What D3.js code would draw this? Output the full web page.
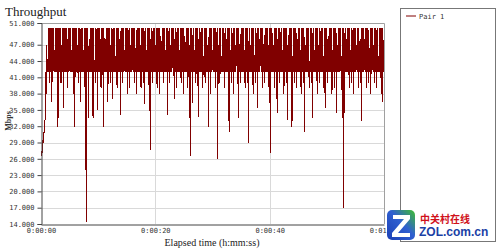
<!DOCTYPE html>
<html>
<head>
<meta charset="utf-8">
<script src="https://cdn.jsdelivr.net/npm/d3@7"></script>
<style>
  body { margin: 0; background: #fff; }
  svg { display: block; }
</style>
</head>
<body>
<svg id="chart" width="500" height="250"></svg>
<script>
"use strict"

// one sample every 0.1 s (Mbps)
var sampleStep = 0.1
var throughput = [
  26.5, 27.5, 27, 29.5, 29, 31, 30.7, 33, 42, 38, 47, 42, 44, 42, 50, 40, 50, 42, 50, 36.5,
  50, 42, 50, 42, 46, 42, 50, 42, 50, 31.8, 50, 33.5, 50, 42, 50, 40, 47, 42, 50, 35.3,
  50, 42, 50, 42, 50, 42, 48, 39, 50, 42, 50, 42, 50, 42, 45, 42, 50, 38, 50, 31.8,
  50, 42, 50, 42, 47, 40, 50, 42, 50, 36.5, 50, 42, 50, 42, 46, 42, 50, 39, 50, 14.4,
  50, 42, 50, 33.5, 47, 42, 50, 42, 50, 42, 50, 33.5, 50, 42, 44, 40, 50, 42, 50, 35,
  50, 42, 50, 42, 48, 39, 50, 42, 50, 31.8, 50, 42, 46, 42, 50, 42, 50, 36.5, 50, 42,
  50, 40, 47, 42, 50, 37, 50, 42, 50, 42, 45, 42, 50, 39, 50, 42, 50, 42, 48, 34,
  50, 42, 50, 40, 50, 42, 46, 42, 50, 42, 50, 38, 50, 42, 50, 39, 47, 42, 50, 42,
  50, 42, 50, 40, 50, 42, 45, 38, 50, 42, 50, 42, 50, 42, 47, 39, 50, 42, 50, 40,
  50, 36, 50, 42, 46, 42, 50, 42, 50, 39, 50, 27.6, 48, 42, 50, 40, 50, 42, 50, 42,
  47, 42, 50, 39, 50, 42, 50, 38, 50, 42, 45, 42, 50, 42, 50, 40, 50, 42, 46, 42,
  50, 34, 50, 42, 50, 40, 47, 42, 50, 42, 50, 42, 50, 37, 48, 42, 50, 39, 50, 42,
  50, 42, 46, 42, 50, 40, 50, 42, 50, 38, 50, 42, 44, 42, 50, 42, 50, 39, 50, 42,
  47, 26.5, 50, 42, 50, 36.3, 50, 42, 46, 42, 50, 40, 50, 42, 50, 33.7, 48, 42, 50, 42,
  50, 42, 50, 39, 45, 42, 50, 40, 50, 42, 50, 42, 47, 31.8, 50, 42, 50, 38, 50, 42,
  46, 42, 50, 42, 50, 39, 50, 42, 50, 26, 47, 42, 50, 40, 50, 42, 45, 42, 50, 42,
  50, 39, 50, 42, 48, 42, 50, 42, 50, 30.9, 50, 42, 46, 40, 50, 42, 50, 38, 50, 42,
  47, 42, 50, 42, 50, 33.5, 50, 42, 44, 40, 50, 42, 50, 42, 50, 42, 46, 39, 50, 42,
  50, 40, 50, 29, 50, 42, 47, 42, 50, 42, 50, 38, 50, 42, 45, 40, 50, 42, 50, 35.3,
  50, 42, 48, 42, 50, 42, 50, 39, 50, 42, 46, 40, 50, 42, 50, 42, 50, 42, 47, 38,
  50, 27, 50, 42, 50, 42, 45, 42, 50, 39, 50, 42, 50, 34.5, 48, 42, 50, 40, 50, 42,
  50, 42, 46, 42, 50, 38, 50, 42, 50, 40, 50, 33.2, 47, 42, 50, 42, 50, 42, 50, 31.8,
  45, 42, 50, 40, 50, 42, 50, 39, 48, 42, 50, 42, 50, 42, 46, 38, 50, 42, 50, 40,
  50, 30.9, 47, 42, 50, 42, 50, 42, 50, 39, 44, 42, 50, 40, 50, 33.5, 50, 42, 46, 42,
  50, 42, 50, 38, 50, 42, 47, 40, 50, 42, 50, 42, 50, 42, 45, 39, 50, 35.3, 50, 42,
  50, 40, 48, 42, 50, 42, 50, 42, 50, 38, 46, 42, 50, 39, 50, 42, 50, 34.5, 47, 42,
  50, 42, 50, 42, 50, 40, 45, 33.5, 50, 17, 50, 34.5, 50, 42, 48, 42, 50, 42, 50, 39,
  50, 42, 46, 40, 50, 42, 50, 38, 50, 42, 50, 42, 47, 42, 50, 39, 50, 42, 44, 40,
  50, 33, 50, 42, 50, 42, 48, 42, 50, 39, 50, 42, 50, 40, 46, 42, 50, 38, 50, 42,
  50, 42, 47, 40, 50, 42, 50, 39, 50, 42, 45, 42, 50, 42, 50, 38, 50, 36.5, 50, 42,
  47
]

var yTicks = [14, 17, 20, 23, 26, 29, 32, 35, 38, 41, 44, 47, 51]
var xTicks = [0, 20, 40, 60]
var xTickLabels = ["0:00:00", "0:00:20", "0:00:40", "0:01:00"]
var seriesNames = ["Pair 1"]

var plot = { left: 41, right: 384, top: 23, bottom: 224 }
var lineColor = "#800000"
var monoFont = "'DejaVu Sans Mono', monospace"
var serifFont = "'Liberation Serif', 'DejaVu Serif', serif"

var svg = d3.select("#chart")

var x = d3.scaleLinear().domain([0, 60]).range([plot.left, plot.right])
var y = d3.scaleLinear().domain([14, 51]).range([plot.bottom, plot.top])

// title
svg.append("text")
  .attr("x", 5).attr("y", 16)
  .attr("font-family", serifFont)
  .attr("font-size", 13)
  .attr("fill", "#222")
  .text("Throughput")

// grid
svg.append("g")
  .selectAll("line")
  .data(yTicks.slice(1, -1))
  .enter().append("line")
  .attr("x1", plot.left).attr("x2", plot.right)
  .attr("y1", function(d){ return Math.round(y(d)) + 0.5 })
  .attr("y2", function(d){ return Math.round(y(d)) + 0.5 })
  .attr("stroke", "#d9d9d9")

svg.append("g")
  .selectAll("line")
  .data(xTicks.slice(1, -1))
  .enter().append("line")
  .attr("y1", plot.top).attr("y2", plot.bottom)
  .attr("x1", function(d){ return Math.round(x(d)) + 0.5 })
  .attr("x2", function(d){ return Math.round(x(d)) + 0.5 })
  .attr("stroke", "#d9d9d9")

// plot frame (top/right light)
svg.append("path")
  .attr("d", "M" + plot.left + "," + (plot.top + 0.5) + "H" + (plot.right + 0.5) + "V" + plot.bottom)
  .attr("fill", "none")
  .attr("stroke", "#a0a0a0")

// series
var line = d3.line()
  .x(function(d, i){ return x(i * sampleStep) })
  .y(function(d){ return y(d) })

svg.append("path")
  .datum(throughput)
  .attr("d", line)
  .attr("fill", "none")
  .attr("stroke", lineColor)
  .attr("stroke-width", 1)
  .attr("shape-rendering", "crispEdges")

// axes
var yAxis = d3.axisLeft(y)
  .tickValues(yTicks)
  .tickSize(4)
  .tickFormat(d3.format(".3f"))

var gy = svg.append("g")
  .attr("transform", "translate(" + (plot.left + 0.5) + ",0)")
  .call(yAxis)
gy.select(".domain").attr("stroke", "#444")
gy.selectAll(".tick line").attr("stroke", "#444")
gy.selectAll(".tick text")
  .attr("font-family", monoFont)
  .attr("font-size", 7)
  .attr("fill", "#333")
  .attr("x", -7)

var xAxis = d3.axisBottom(x)
  .tickValues(xTicks)
  .tickSize(0)
  .tickFormat(function(d, i){ return xTickLabels[i] })

var gx = svg.append("g")
  .attr("transform", "translate(0," + (plot.bottom + 0.5) + ")")
  .call(xAxis)
gx.select(".domain").attr("stroke", "#444")
gx.selectAll(".tick text")
  .attr("font-family", monoFont)
  .attr("font-size", 7)
  .attr("fill", "#333")
  .attr("y", 4)

// axis titles
svg.append("text")
  .attr("transform", "translate(8," + 121 + ") rotate(-90)")
  .attr("text-anchor", "middle")
  .attr("dy", "0.35em")
  .attr("font-family", serifFont)
  .attr("font-size", 8)
  .attr("font-weight", "bold")
  .attr("fill", "#333")
  .text("Mbps")

svg.append("text")
  .attr("x", 212).attr("y", 246)
  .attr("text-anchor", "middle")
  .attr("font-family", serifFont)
  .attr("font-size", 10)
  .attr("fill", "#222")
  .text("Elapsed time (h:mm:ss)")

// legend panel
var legend = svg.append("g")
legend.append("rect")
  .attr("x", 400.5).attr("y", 8.5)
  .attr("width", 95).attr("height", 233)
  .attr("fill", "#fff")
  .attr("stroke", "#777")

var items = legend.selectAll(".item")
  .data(seriesNames)
  .enter().append("g")
  .attr("transform", function(d, i){ return "translate(406," + (16 + i * 12) + ")" })
items.append("line")
  .attr("x1", 0).attr("x2", 10)
  .attr("stroke", lineColor)
items.append("text")
  .attr("x", 13).attr("y", 2.5)
  .attr("font-family", monoFont)
  .attr("font-size", 7)
  .attr("fill", "#333")
  .text(function(d){ return d })

// watermark logo
var logo = svg.append("g")
var grad = svg.append("defs").append("linearGradient")
  .attr("id", "zolgrad").attr("x1", "0").attr("y1", "1").attr("x2", "1").attr("y2", "0")
grad.append("stop").attr("offset", "0%").attr("stop-color", "#1b3fb5")
grad.append("stop").attr("offset", "55%").attr("stop-color", "#2f5fd0")
grad.append("stop").attr("offset", "100%").attr("stop-color", "#3fbf2f")
logo.append("rect")
  .attr("x", 387).attr("y", 210)
  .attr("width", 28).attr("height", 30)
  .attr("rx", 5)
  .attr("fill", "url(#zolgrad)")
logo.append("path")
  .attr("d", "M393,215 H410 V219 L398,233 H410 V237 H392 V233 L404,219 H393 Z")
  .attr("fill", "#fff")
logo.append("text")
  .attr("x", 420).attr("y", 223)
  .attr("font-family", "'Noto Sans CJK SC', sans-serif")
  .attr("font-size", 10)
  .attr("font-weight", "bold")
  .attr("fill", "#d0101a")
  .text("中关村在线")
logo.append("text")
  .attr("x", 419).attr("y", 236)
  .attr("font-family", "'Liberation Sans', Arial, sans-serif")
  .attr("font-size", 12)
  .attr("font-weight", "bold")
  .attr("fill", "#1b3fa5")
  .text("ZOL.com.cn")
</script>
</body>
</html>
